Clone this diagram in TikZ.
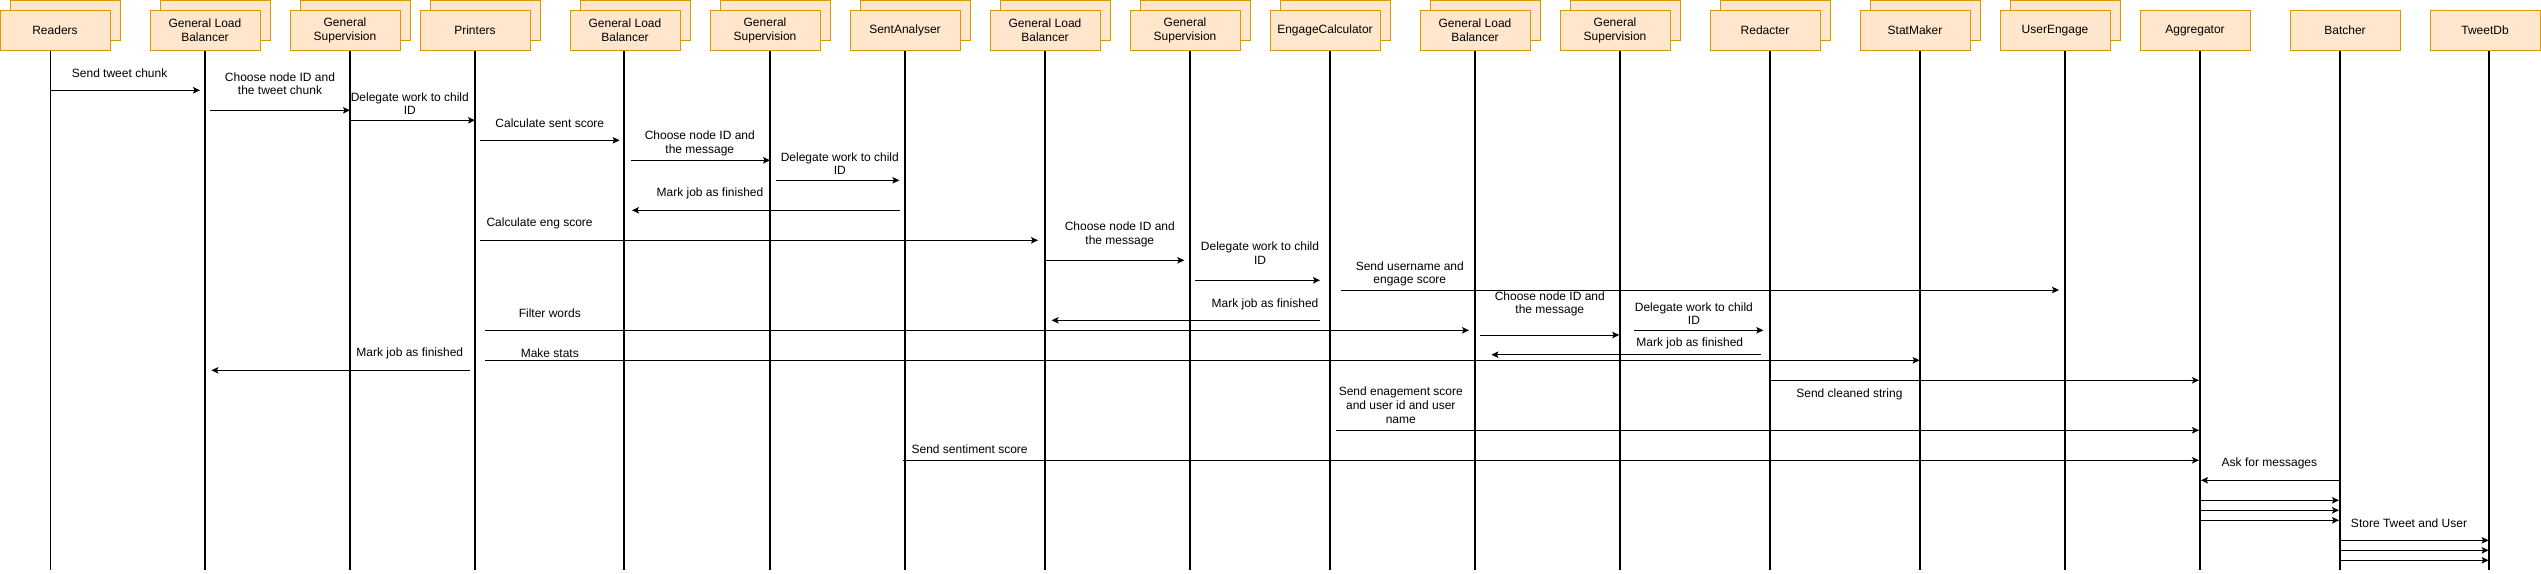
\documentclass[tikz,border=0pt]{standalone}
\usepackage{fontspec}
\setmainfont{Liberation Sans}
\usetikzlibrary{arrows.meta,calc}
\definecolor{boxfill}{HTML}{FFE6CC}
\definecolor{boxline}{HTML}{D79B00}
\begin{document}
\begin{tikzpicture}[x=1pt,y=-1pt,font=\fontsize{12}{13.8}\selectfont,
  box/.style={draw=boxline,fill=boxfill,line width=1pt,minimum width=110pt,minimum height=40pt,inner sep=0pt,align=center},
  life/.style={line width=1.8pt},
  msg/.style={line width=0.9pt,-{Stealth[length=7pt,width=6.5pt,inset=1.5pt]}},
  lbl/.style={align=center,inner sep=0pt}]
\useasboundingbox (0,0) rectangle (2541,573);
% back boxes
\node[box] (s1) at (65,20.5) {};
\node[box] (s2) at (215,20.5) {};
\node[box] (s3) at (355,20.5) {};
\node[box] (s4) at (485,20.5) {};
\node[box] (s5) at (635,20.5) {};
\node[box] (s6) at (775,20.5) {};
\node[box] (s7) at (915,20.5) {};
\node[box] (s8) at (1055,20.5) {};
\node[box] (s9) at (1195,20.5) {};
\node[box] (s10) at (1335,20.5) {};
\node[box] (s11) at (1485,20.5) {};
\node[box] (s12) at (1625,20.5) {};
\node[box] (s13) at (1775,20.5) {};
\node[box] (s14) at (1925,20.5) {};
\node[box] (s15) at (2065,20.5) {};
% front boxes
\node[box] (b1) at (55,30.3) {Readers};
\node[box] (b2) at (205,30.3) {General Load\\Balancer};
\node[box] (b3) at (345,30.3) {General\\Supervision};
\node[box] (b4) at (475,30.3) {Printers};
\node[box] (b5) at (625,30.3) {General Load\\Balancer};
\node[box] (b6) at (765,30.3) {General\\Supervision};
\node[box] (b7) at (905,30.3) {SentAnalyser};
\node[box] (b8) at (1045,30.3) {General Load\\Balancer};
\node[box] (b9) at (1185,30.3) {General\\Supervision};
\node[box] (b10) at (1325,30.3) {EngageCalculator};
\node[box] (b11) at (1475,30.3) {General Load\\Balancer};
\node[box] (b12) at (1615,30.3) {General\\Supervision};
\node[box] (b13) at (1765,30.3) {Redacter};
\node[box] (b14) at (1915,30.3) {StatMaker};
\node[box] (b15) at (2055,30.3) {UserEngage};
\node[box] (b16) at (2195,30.3) {Aggregator};
\node[box] (b17) at (2345,30.3) {Batcher};
\node[box] (b18) at (2485,30.3) {TweetDb};
% lifeline coordinates
\coordinate (L1) at (50.5,0);
\coordinate (L2) at (205,0);
\coordinate (L3) at (350,0);
\coordinate (L4) at (475,0);
\coordinate (L5) at (624,0);
\coordinate (L6) at (770,0);
\coordinate (L7) at (905,0);
\coordinate (L8) at (1045,0);
\coordinate (L9) at (1190,0);
\coordinate (L10) at (1330,0);
\coordinate (L11) at (1475,0);
\coordinate (L12) at (1620,0);
\coordinate (L13) at (1770,0);
\coordinate (L14) at (1920,0);
\coordinate (L15) at (2065,0);
\coordinate (L16) at (2200,0);
\coordinate (L17) at (2340,0);
\coordinate (L18) at (2489,0);
\foreach \i in {1,...,18}{
  \draw[life] (L\i |- b\i.south) -- (L\i |- 0,570);
}
% messages
\draw[msg] (L1|-0,90.3) -- ($(L2|-0,90.3)+(-5,0)$);
\node[lbl] (t1) at (119.6,73.3) {Send tweet chunk};
\draw[msg] ($(L2|-0,110.3)+(5,0)$) -- (L3|-0,110.3);
\node[lbl] (t2) at (280,83.7) {Choose node ID and\\the tweet chunk};
\draw[msg] (L3|-0,120.3) -- (L4|-0,120.3);
\node[lbl] (t3) at (409.8,103.7) {Delegate work to child\\ID};
\draw[msg] ($(L4|-0,140.3)+(5.4,0)$) -- ($(L5|-0,140.3)+(-4.4,0)$);
\node[lbl] (t4) at (549.8,123.7) {Calculate sent score};
\draw[msg] ($(L5|-0,160.3)+(6.6,0)$) -- (L6|-0,160.3);
\node[lbl] (t5) at (699.8,143.7) {Choose node ID and\\the message};
\draw[msg] ($(L6|-0,180.3)+(5.7,0)$) -- ($(L7|-0,180.3)+(-5.6,0)$);
\node[lbl] (t6) at (839.8,163.7) {Delegate work to child\\ID};
\draw[msg] ($(L7|-0,210.3)+(-4.8,0)$) -- ($(L5|-0,210.3)+(8,0)$);
\node[lbl] (t7) at (710,193.7) {Mark job as finished};
\draw[msg] ($(L4|-0,240.3)+(5.4,0)$) -- ($(L8|-0,240.3)+(-7,0)$);
\node[lbl] (t8) at (539.6,223.7) {Calculate eng score};
\draw[msg] (L8|-0,260.3) -- ($(L9|-0,260.3)+(-5.7,0)$);
\node[lbl] (t9) at (1119.8,234) {Choose node ID and\\the message};
\draw[msg] ($(L9|-0,280.3)+(5.3,0)$) -- ($(L10|-0,280.3)+(-10,0)$);
\node[lbl] (t10) at (1260,253.5) {Delegate work to child\\ID};
\draw[msg] ($(L10|-0,320.3)+(-10,0)$) -- ($(L8|-0,320.3)+(6.6,0)$);
\node[lbl] (t11) at (1265,304) {Mark job as finished};
\draw[msg] ($(L10|-0,290)+(10.8,0)$) -- ($(L15|-0,290)+(-6,0)$);
\node[lbl] (t12) at (1409.8,273.8) {Send username and\\engage score};
\draw[msg] ($(L4|-0,330.3)+(10,0)$) -- ($(L11|-0,330.3)+(-6,0)$);
\node[lbl] (t13) at (549.8,313.7) {Filter words};
\draw[msg] ($(L11|-0,335)+(5.4,0)$) -- ($(L12|-0,335)+(-0.8,0)$);
\node[lbl] (t14) at (1549.8,303.8) {Choose node ID and\\the message};
\draw[msg] ($(L12|-0,330.3)+(14.3,0)$) -- ($(L13|-0,330.3)+(-6.7,0)$);
\node[lbl] (t15) at (1693.9,313.7) {Delegate work to child\\ID};
\draw[msg] ($(L13|-0,354.7)+(-9.2,0)$) -- ($(L11|-0,354.7)+(16.4,0)$);
\node[lbl] (t16) at (1689.8,343.7) {Mark job as finished};
\draw[msg] ($(L4|-0,360.3)+(10,0)$) -- ($(L14|-0,360.3)+(-0.4,0)$);
\node[lbl] (t17) at (549.8,353.7) {Make stats};
\draw[msg] ($(L4|-0,370.3)+(-4.8,0)$) -- ($(L2|-0,370.3)+(6.4,0)$);
\node[lbl] (t18) at (409.8,353.7) {Mark job as finished};
\draw[msg] ($(L13|-0,380.3)+(1.4,0)$) -- ($(L16|-0,380.3)+(-1,0)$);
\node[lbl] (t19) at (1849.4,394) {Send cleaned string};
\draw[msg] ($(L10|-0,430.3)+(6,0)$) -- ($(L16|-0,430.3)+(-1,0)$);
\node[lbl] (t20) at (1400.8,405) {Send enagement score\\and user id and user\\name};
\draw[msg] ($(L7|-0,460.3)+(-2,0)$) -- ($(L16|-0,460.3)+(-1,0)$);
\node[lbl] (t21) at (969.6,449) {Send sentiment score};
\draw[msg] (L17|-0,480.3) -- ($(L16|-0,480.3)+(1,0)$);
\node[lbl] (t22) at (2269.4,463.7) {Ask for messages};
\draw[msg] (L16|-0,500.3) -- ($(L17|-0,500.3)+(-1,0)$);
\draw[msg] (L16|-0,510.3) -- ($(L17|-0,510.3)+(-1,0)$);
\draw[msg] (L16|-0,520.3) -- ($(L17|-0,520.3)+(-1,0)$);
\draw[msg] (L17|-0,540.3) -- ($(L18|-0,540.3)+(-0.4,0)$);
\draw[msg] (L17|-0,550.3) -- ($(L18|-0,550.3)+(-0.4,0)$);
\draw[msg] (L17|-0,560.3) -- ($(L18|-0,560.3)+(-0.4,0)$);
\node[lbl] (t23) at (2409,523.7) {Store Tweet and User};
\end{tikzpicture}
\end{document}
